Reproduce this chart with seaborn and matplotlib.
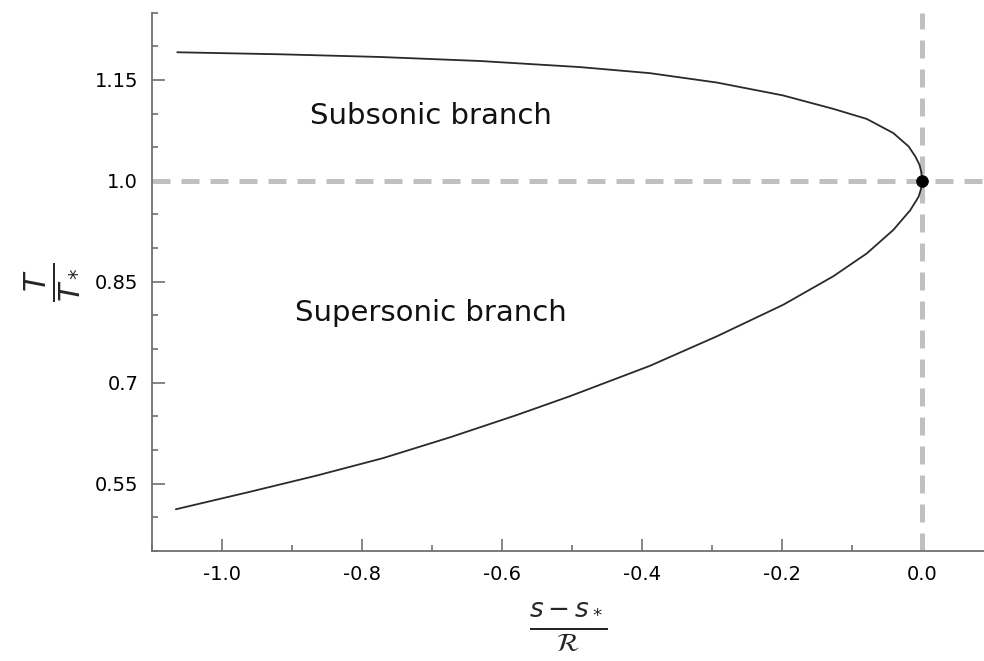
import matplotlib
matplotlib.use("Agg")
import matplotlib.pyplot as plt
import seaborn as sns
import pandas as pd
from matplotlib.ticker import MultipleLocator, FixedLocator

# Subsonic (upper) branch
upper_x = [-1.064, -0.917, -0.774, -0.631, -0.489, -0.389, -0.293, -0.199,
           -0.127, -0.079, -0.041, -0.019, -0.0094, -0.0036, -0.0007, 0.0]
upper_y = [1.191, 1.188, 1.184, 1.178, 1.169, 1.160, 1.146, 1.127,
           1.107, 1.092, 1.071, 1.051, 1.036, 1.024, 1.012, 1.0]

# Supersonic (lower) branch
lower_x = [-1.066, -0.960, -0.865, -0.770, -0.674, -0.579, -0.503, -0.389,
           -0.293, -0.198, -0.127, -0.079, -0.041, -0.017, -0.005, -0.0013, 0.0]
lower_y = [0.512, 0.538, 0.562, 0.588, 0.619, 0.652, 0.680, 0.725,
           0.769, 0.816, 0.858, 0.892, 0.927, 0.956, 0.976, 0.988, 1.0]

sonic_x = [0.0]
sonic_y = [1.0]

x_ticks = [-1.0, -0.8, -0.6, -0.4, -0.2, 0.0]
x_tick_labels = ["-1.0", "-0.8", "-0.6", "-0.4", "-0.2", "0.0"]
y_ticks = [0.55, 0.7, 0.85, 1.0, 1.15]
y_tick_labels = ["0.55", "0.7", "0.85", "1.0", "1.15"]

sns.set_style("white")
plt.rcParams["font.family"] = ["DejaVu Sans"]
plt.rcParams["mathtext.fontset"] = "dejavusans"

fig = plt.figure(figsize=(9.84, 6.61), dpi=100)
ax = fig.add_axes([0.1545, 0.1664, 1.0 - 0.1545, 0.981 - 0.1664])

dash_kw = dict(color="#c0c0c0", lw=3.6, dashes=(3.6, 2.2), zorder=1)
ax.axhline(1.0, **dash_kw)
ax.axvline(0.0, **dash_kw)

up = pd.DataFrame({"x": upper_x, "y": upper_y})
lo = pd.DataFrame({"x": lower_x, "y": lower_y})
sns.lineplot(data=up, x="x", y="y", sort=False, estimator=None, color="#2a2a2a",
             lw=1.3, ax=ax, zorder=3)
sns.lineplot(data=lo, x="x", y="y", sort=False, estimator=None, color="#2a2a2a",
             lw=1.3, ax=ax, zorder=3)
sns.scatterplot(x=sonic_x, y=sonic_y, color="black", s=70, edgecolor="black",
                ax=ax, zorder=4)

ax.set_xlim(-1.1, 0.0886)
ax.set_ylim(0.45, 1.25)

ax.xaxis.set_major_locator(FixedLocator(x_ticks))
ax.set_xticklabels(x_tick_labels)
ax.xaxis.set_minor_locator(MultipleLocator(0.1))
ax.yaxis.set_major_locator(FixedLocator(y_ticks))
ax.set_yticklabels(y_tick_labels)
ax.yaxis.set_minor_locator(MultipleLocator(0.05))

ax.tick_params(which="major", direction="in", length=9, width=1.2,
               color="#707070", labelsize=14, labelcolor="black", pad=10)
ax.tick_params(which="minor", direction="in", length=4, width=1.2,
               color="#707070")
ax.tick_params(axis="x", which="both", bottom=True)
ax.tick_params(axis="y", which="both", left=True)

for side in ["top", "right"]:
    ax.spines[side].set_visible(False)
for side in ["left", "bottom"]:
    ax.spines[side].set_color("#707070")
    ax.spines[side].set_linewidth(1.3)

ax.set_xlabel(r"$\frac{s - s_*}{\mathcal{R}}$", fontsize=27, labelpad=12)
ax.set_ylabel(r"$\frac{T}{T_*}$", fontsize=31, labelpad=11)

ax.text(-0.702, 1.097, "Subsonic branch", fontsize=21, ha="center", va="center",
        color="#111111")
ax.text(-0.702, 0.804, "Supersonic branch", fontsize=21, ha="center", va="center",
        color="#111111")

fig.savefig("out.png", dpi=100)
